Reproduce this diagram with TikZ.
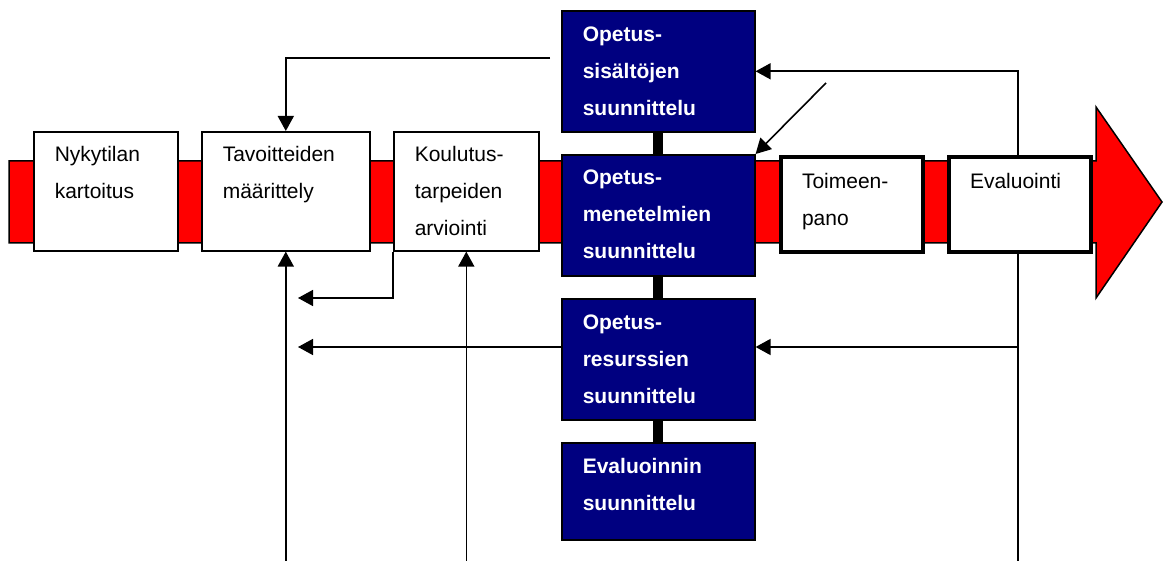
\documentclass[tikz,border=0pt]{standalone}
\usepackage{fontspec}
\setmainfont{Liberation Sans}
\usepackage{tikz}
\usetikzlibrary{positioning,arrows.meta}
\definecolor{bandred}{RGB}{255,0,0}
\definecolor{navyblue}{RGB}{0,0,128}
\tikzset{>={Triangle[length=15pt,width=16pt]}}
\tikzset{
  stage/.style={draw, line width=1.6pt, fill=white, anchor=north west, inner xsep=21pt, inner ysep=0pt,
    align=left, font=\fontsize{21}{37}\selectfont, text height=30pt},
  bold stage/.style={stage, line width=4pt},
  plan/.style={stage, fill=navyblue, text=white, text width=151pt, text height=31pt,
    font=\fontsize{21}{37}\selectfont\bfseries},
  bar/.style={line width=10pt},
  flow/.style={->, line width=1.6pt}
}

\begin{document}
\begin{tikzpicture}[x=1pt,y=-1pt]
    \useasboundingbox (0,0) rectangle (1167,561);
    % the red arrow underneath
    \draw[fill=bandred, line width=1.5pt] (9,161) -- (1096,161) -- (1096,107) -- (1162,202)
        -- (1096,298) -- (1096,243) -- (9,243) -- cycle;
    % set up the nodes
    \node[stage, text width=102pt, text depth=89pt] (nyky) at (33,131) {Nykytilan\\kartoitus};
    \node[stage, text width=126pt, text depth=89pt] (tav) at (201,131) {Tavoitteiden\\määrittely};
    \node[stage, text width=103pt, text depth=89pt] (kou) at (393,131) {Koulutus-\\tarpeiden\\arviointi};
    \node[plan, text depth=90pt] (sis) at (561,10) {Opetus-\\sisältöjen\\suunnittelu};
    \node[plan, text height=30pt, text depth=91pt] (men) at (561,154) {Opetus-\\menetelmien\\suunnittelu};
    \node[plan, text depth=90pt] (res) at (561,298) {Opetus-\\resurssien\\suunnittelu};
    \node[plan, text depth=66pt] (evs) at (561,442) {Evaluoinnin\\suunnittelu};
    \node[bold stage, text width=100pt, text height=32pt, text depth=63pt] (toim) at (779,155) {Toimeen-\\pano};
    \node[bold stage, text width=100pt, text height=32pt, text depth=63pt] (eval) at (947,155) {Evaluointi};
    % thick bars between the planning boxes
    \draw[bar] (sis.south) -- (men.north);
    \draw[bar] (men.south) -- (res.north);
    \draw[bar] (res.south) -- (evs.north);
    % free ends of the feedback lines
    \coordinate (top) at (550,58);
    \coordinate (diag) at (826,83);
    \coordinate (right) at (1018,561);
    \coordinate (rmid) at (1018,347);
    \coordinate (back1) at (298,298);
    \coordinate (back2) at (298,347);
    % draw arrows between them
    \draw[flow] (top) -| (tav.north);
    \draw[flow] (diag) -- (men.north east);
    \draw[line width=1.6pt] (right) -- (eval.south -| right);
    \draw[flow] (eval.north -| right) |- (sis.east);
    \draw[flow] (rmid) -- (rmid -| res.east);
    \draw[flow] (kou.south west) |- (back1);
    \draw[flow] (back2 -| res.west) -- (back2);
    \draw[flow] (tav.south |- right) -- (tav.south);
    \draw[flow] (kou.south |- right) -- (kou.south);
\end{tikzpicture}
\end{document}
